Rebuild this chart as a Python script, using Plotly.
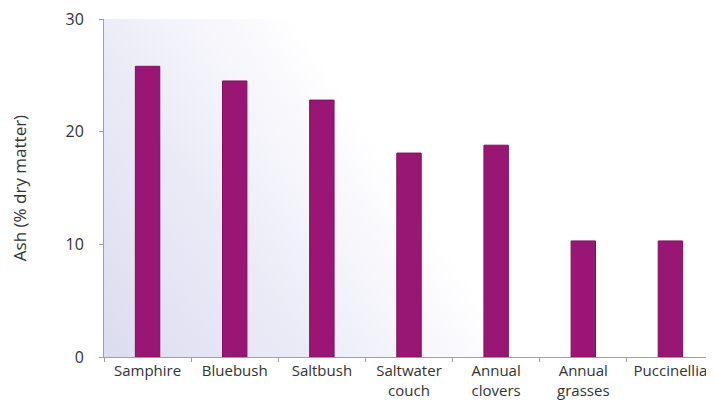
import plotly.graph_objects as go
import base64

categories = ["Samphire", "Bluebush", "Saltbush", "Saltwater<br>couch",
              "Annual<br>clovers", "Annual<br>grasses", "Puccinellia"]
ash = [25.8, 24.5, 22.8, 18.1, 18.8, 10.3, 10.3]
y_ticks = [0, 10, 20, 30]

svg = ('<svg xmlns="http://www.w3.org/2000/svg" width="600" height="340" preserveAspectRatio="none">'
       '<defs><linearGradient id="g" x1="0" y1="1" x2="0.6" y2="0.78">'
       '<stop offset="0" stop-color="#dcdcf0"/>'
       '<stop offset="0.5" stop-color="#ebebf7"/>'
       '<stop offset="1" stop-color="#ffffff"/>'
       '</linearGradient></defs>'
       '<rect width="600" height="340" fill="url(#g)"/></svg>')
uri = "data:image/svg+xml;base64," + base64.b64encode(svg.encode()).decode()

font = "Open Sans"
fig = go.Figure(go.Bar(
    x=categories, y=ash, width=0.28,
    marker=dict(color="#9a1674", line=dict(color="#7e0f5c", width=1)),
))
fig.update_layout(
    width=706, height=402,
    margin=dict(l=96, r=0, t=11, b=53),
    paper_bgcolor="white", plot_bgcolor="rgba(0,0,0,0)",
    font=dict(family=font, size=16, color="#333333"),
    showlegend=False,
    images=[dict(source=uri, xref="paper", yref="paper", x=0, y=1,
                 sizex=1, sizey=1, sizing="stretch", layer="below",
                 xanchor="left", yanchor="top")],
)
fig.update_xaxes(
    type="category", range=[-0.5, 6.5], showgrid=False, automargin=False,
    showline=True, linecolor="#a0a0a0", linewidth=1, tickangle=0,
    ticks="outside", tickson="boundaries", ticklen=4, tickcolor="#a0a0a0",
    tickfont=dict(size=15, color="#333333"), ticklabeloverflow="allow",
)
fig.update_yaxes(
    range=[0, 30], tickvals=y_ticks, showgrid=False, zeroline=False, automargin=False,
    showline=True, linecolor="#a0a0a0", linewidth=1, ticklabeloverflow="allow",
    ticks="outside", ticklen=4, tickcolor="#a0a0a0", ticklabelstandoff=12,
    tickfont=dict(size=16, color="#333333"),
    title=dict(text="Ash (% dry matter)", font=dict(size=17, color="#333333"), standoff=34),
)
fig.write_html("out.html")
